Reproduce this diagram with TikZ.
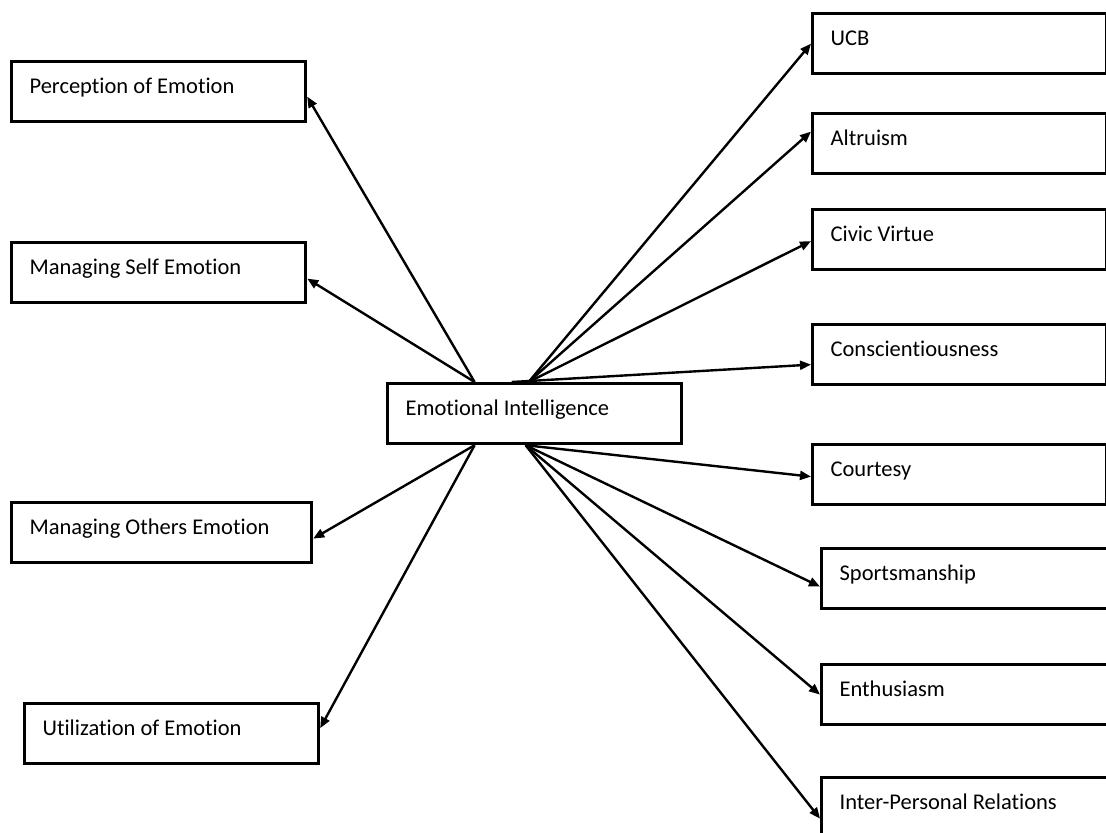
\documentclass[tikz,border=0pt]{standalone}
\usepackage{fontspec}
\setmainfont{Carlito}[RawFeature={-liga;-clig}]
\usetikzlibrary{arrows.meta}
\begin{document}
\begin{tikzpicture}[x=0.5pt, y=-0.5pt,
  item/.style={draw, line width=1.6pt, anchor=north west, inner xsep=9pt, inner ysep=0pt,
    text width=129pt, text height=16pt, text depth=14pt, align=flush left,
    font=\fontsize{11.25}{13}\selectfont},
  link/.style={line width=1.2pt, -{Triangle[length=5.5pt,width=4.5pt]}}]
\clip (0,0) rectangle (1106,832);
\node[item] (ei) at (386,382) {Emotional Intelligence};
\node[item] (perc) at (10,60) {Perception of Emotion};
\node[item] (mself) at (10,241) {Managing Self Emotion};
\node[item, text width=132pt] (mothers) at (10,501) {Managing Others Emotion};
\node[item] (util) at (23,702) {Utilization of Emotion};
\node[item] (ucb) at (811,12) {UCB};
\node[item] (altr) at (811,112) {Altruism};
\node[item] (civic) at (811,208) {Civic Virtue};
\node[item] (consc) at (811,323) {Conscientiousness};
\node[item] (court) at (811,443) {Courtesy};
\node[item] (sports) at (820,547) {Sportsmanship};
\node[item] (enth) at (820,663) {Enthusiasm};
\node[item] (ipr) at (820,776) {Inter-Personal Relations};
\draw[link] ([xshift=-30pt]ei.north) -- ([yshift=-2.5pt]perc.east);
\draw[link] ([xshift=-30pt]ei.north) -- ([yshift=-3pt]mself.east);
\draw[link] ([xshift=-30pt]ei.south) -- ([yshift=-3pt]mothers.east);
\draw[link] ([xshift=-30pt]ei.south) -- ([yshift=2.75pt]util.east);
\draw[link] ([xshift=-3pt]ei.north) -- (ucb.west);
\draw[link] ([xshift=-3pt]ei.north) -- ([yshift=6pt]altr.west);
\draw[link] ([xshift=-3pt]ei.north) -- ([yshift=-0.75pt]civic.west);
\draw[link] ([xshift=-11.5pt]ei.north) -- ([yshift=-5pt]consc.west);
\draw[link] ([xshift=-4.5pt]ei.south) -- ([yshift=-1pt]court.west);
\draw[link] ([xshift=-4.5pt]ei.south) -- ([yshift=-4pt]sports.west);
\draw[link] ([xshift=-4.5pt]ei.south) -- (enth.west);
\draw[link] ([xshift=-4.5pt]ei.south) -- ([yshift=-5.5pt]ipr.west);
\end{tikzpicture}
\end{document}
